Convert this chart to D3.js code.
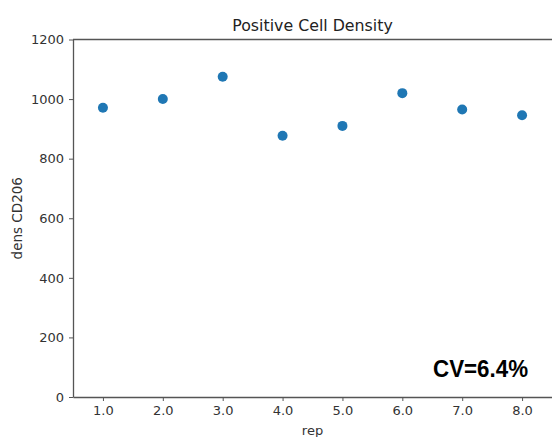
<!DOCTYPE html>
<html>
<head>
<meta charset="utf-8">
<script src="https://cdn.jsdelivr.net/npm/d3@7"></script>
<style>
    body { margin: 0; background: #fff; }
    text { font-family: "DejaVu Sans", sans-serif; }
</style>
</head>
<body>
<div id="chart"></div>
<script>
// Data
const reps = [1, 2, 3, 4, 5, 6, 7, 8];
const density = [971, 1000, 1075, 877, 910, 1020, 965, 946];
const yTicks = [0, 200, 400, 600, 800, 1000, 1200];
const xTicks = [1, 2, 3, 4, 5, 6, 7, 8];
const title = 'Positive Cell Density';
const xLabel = 'rep';
const yLabel = 'dens CD206';
const cvLabel = 'CV=6.4%';

function draw() {
    // Dimension
    let dimensions = {
        width: 552,
        height: 437,
        left: 73,
        right: 552,
        top: 39.5,
        bottom: 397,
    };

    const svg = d3.select('#chart')
        .append('svg')
        .attr('width', dimensions.width)
        .attr('height', dimensions.height);

    // Scales
    const xScale = d3.scaleLinear()
        .domain([0.5, 8.5])
        .range([dimensions.left, dimensions.right]);

    const yScale = d3.scaleLinear()
        .domain([0, 1200])
        .range([dimensions.bottom, dimensions.top]);

    // Axis
    const xAxis = d3.axisBottom(xScale)
        .tickValues(xTicks)
        .tickFormat(d3.format('.1f'))
        .tickSize(4)
        .tickPadding(5)
        .tickSizeOuter(0);
    const xAxisGroup = svg.append('g')
        .attr('transform', `translate(0, ${dimensions.bottom})`)
        .call(xAxis);

    const yAxis = d3.axisLeft(yScale)
        .tickValues(yTicks)
        .tickFormat(d3.format('d'))
        .tickSize(4)
        .tickPadding(5)
        .tickSizeOuter(0);
    const yAxisGroup = svg.append('g')
        .attr('transform', `translate(${dimensions.left}, 0)`)
        .call(yAxis);

    [xAxisGroup, yAxisGroup].forEach(g => {
        g.select('.domain').attr('stroke', '#555').attr('stroke-width', 1.3);
        g.selectAll('.tick line').attr('stroke', '#555').attr('stroke-width', 1);
        g.selectAll('.tick text')
            .attr('fill', '#333')
            .style('font-size', '13px')
            .style('font-family', '"DejaVu Sans", sans-serif');
    });

    // top spine
    svg.append('line')
        .attr('x1', dimensions.left)
        .attr('x2', dimensions.right)
        .attr('y1', yScale(1200))
        .attr('y2', yScale(1200))
        .attr('stroke', '#555')
        .attr('stroke-width', 1.3);

    // Points
    svg.append('g')
        .selectAll('circle')
        .data(reps)
        .join('circle')
        .attr('cx', (d) => xScale(d))
        .attr('cy', (d, i) => yScale(density[i]))
        .attr('r', 5)
        .attr('fill', '#1f77b4');

    // Labels
    svg.append('text')
        .attr('x', (dimensions.left + dimensions.right) / 2)
        .attr('y', 31)
        .attr('text-anchor', 'middle')
        .attr('fill', '#222')
        .style('font-size', '15.8px')
        .text(title);

    svg.append('text')
        .attr('x', (dimensions.left + dimensions.right) / 2)
        .attr('y', 435)
        .attr('text-anchor', 'middle')
        .attr('fill', '#333')
        .style('font-size', '13px')
        .text(xLabel);

    svg.append('text')
        .attr('transform', `translate(22, ${(dimensions.top + dimensions.bottom) / 2}) rotate(-90)`)
        .attr('text-anchor', 'middle')
        .attr('fill', '#333')
        .style('font-size', '13.5px')
        .text(yLabel);

    svg.append('text')
        .attr('x', 433)
        .attr('y', 377)
        .attr('fill', '#000')
        .attr('textLength', 95)
        .attr('lengthAdjust', 'spacingAndGlyphs')
        .style('font-family', '"Liberation Sans", Arial, sans-serif')
        .style('font-weight', 'bold')
        .style('font-size', '23px')
        .text(cvLabel);
}

draw();
</script>
</body>
</html>
